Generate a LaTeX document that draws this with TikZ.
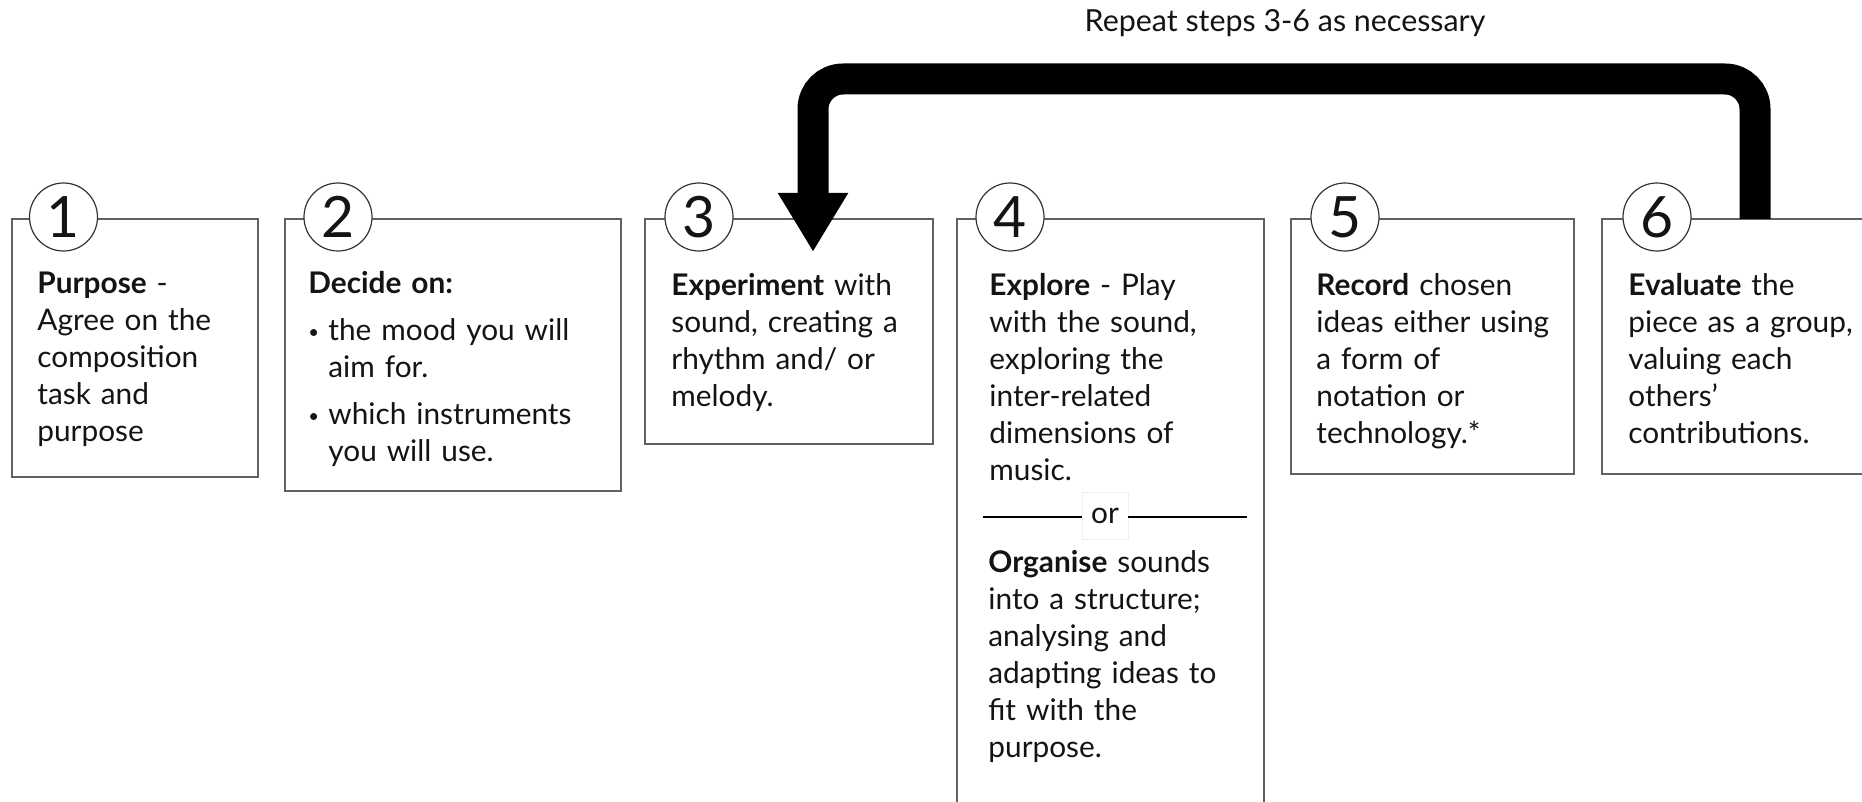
\documentclass[tikz,border=0pt]{standalone}
\usepackage{fontspec}
\setmainfont{Lato}
\usepackage{graphicx}
\usetikzlibrary{arrows.meta}
\definecolor{boxline}{gray}{0.38}
\definecolor{ink}{gray}{0.08}
\newcommand{\bul}{\raisebox{0.06em}{\scalebox{0.62}{•}}}
\tikzset{
  x=0.5pt, y=-0.5pt,
  stepbox/.style={draw=boxline, line width=0.9pt},
  numcirc/.style={circle, draw=black!80, line width=0.6pt, fill=white, minimum size=34pt, inner sep=0pt, font=\fontsize{28.5pt}{28.5pt}\selectfont, text=ink},
  bodytext/.style={anchor=base west, inner sep=0pt, text width=170pt, align=left, text=ink, font=\fontsize{14.9pt}{18.5pt}\selectfont},
  looparrow/.style={line width=15.5pt, rounded corners=15pt, -{Triangle[length=29.5pt, width=33pt]}},
  orline/.style={line width=0.8pt, black},
}
\begin{document}
\begin{tikzpicture}
\useasboundingbox (0,0) rectangle (1862,802);
\clip (0,0) rectangle (1862,802);
\fill[white] (0,0) rectangle (1862,802);

% title
\node[anchor=base, inner sep=0pt, text=ink, font=\fontsize{15.2pt}{18pt}\selectfont] (title) at (1285,32) {Repeat steps 3-6 as necessary};

% boxes
\draw[stepbox] (12,219) rectangle (258,477) coordinate (b1);
\draw[stepbox] (285,219) rectangle (621,491) coordinate (b2);
\draw[stepbox] (645,219) rectangle (933,444) coordinate (b3);
\draw[stepbox] (957,219) rectangle (1264,840) coordinate (b4);
\draw[stepbox] (1291,219) rectangle (1574,474) coordinate (b5);
\draw[stepbox] (1602,219) rectangle (1920,474) coordinate (b6);

% number circles
\node[numcirc] (n1) at (63.5,217) {1};
\node[numcirc] (n2) at (338,217) {2};
\node[numcirc] (n3) at (699,217) {3};
\node[numcirc] (n4) at (1010,217) {4};
\node[numcirc] (n5) at (1345,217) {5};
\node[numcirc] (n6) at (1657,217) {6};

% texts
\node[bodytext] (t1) at (37,293) {\textbf{Purpose} -\\Agree on the\\composition\\task and\\purpose};
\node[bodytext] (t2) at (308,293) {\textbf{Decide on:}\\[5pt]
  \makebox[10pt][l]{\bul}the mood you will\\\hspace*{10pt}aim for.\\[5pt]
  \makebox[10pt][l]{\bul}which instruments\\\hspace*{10pt}you will use.};
\node[bodytext] (t3) at (671,295) {\textbf{Experiment} with\\sound, creating a\\rhythm and/ or\\melody.};
\node[bodytext] (t4) at (989,295) {\textbf{Explore} - Play\\with the sound,\\exploring the\\inter-related\\dimensions of\\music.};
\node[bodytext] (t4b) at (988,572) {\textbf{Organise} sounds\\into a structure;\\analysing and\\adapting ideas to\\fit with the\\purpose.};
\node[bodytext] (t5) at (1316,295) {\textbf{Record} chosen\\ideas either using\\a form of\\notation or\\technology.*};
\node[bodytext] (t6) at (1628,295) {\textbf{Evaluate} the\\piece as a group,\\valuing each\\others'\\contributions.};

% or separator
\node[draw=black!6, fill=white, minimum width=23pt, minimum height=23.5pt, inner sep=0pt, text=ink, font=\fontsize{14.9pt}{18.5pt}\selectfont] (or) at (1105,516) {or};
\coordinate (orL) at (983,517);
\coordinate (orR) at (1247,517);
\draw[orline] (orL) -- (orL -| or.west);
\draw[orline] (or.east |- orR) -- (orR);

% loop arrow from step 6 back to step 3
\coordinate (from6) at (1755,219);
\coordinate (to3) at (813,252);
\draw[looparrow] (from6) -- (1755,79) -- (813,79) -- (to3);
\end{tikzpicture}
\end{document}
